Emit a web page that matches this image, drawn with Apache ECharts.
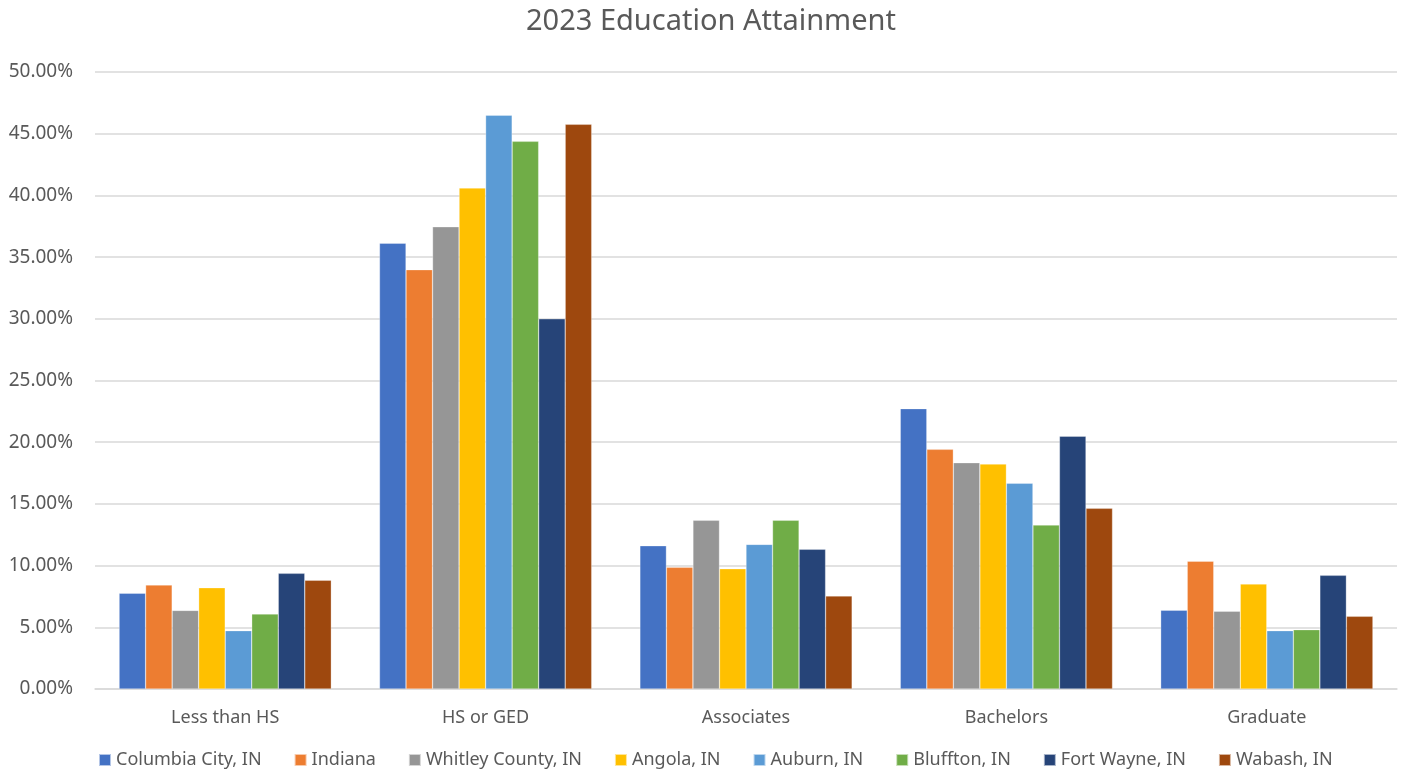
<!DOCTYPE html>
<html><head><meta charset="utf-8">
<script src="https://cdn.jsdelivr.net/npm/echarts@6/dist/echarts.min.js"></script>
<style>html,body{margin:0;padding:0;background:#fff}#c{width:1408px;height:776px}</style>
</head><body><div id="c"></div>
<script>
const categories = ['Less than HS','HS or GED','Associates','Bachelors','Graduate'];
const seriesNames = ['Columbia City, IN','Indiana','Whitley County, IN','Angola, IN','Auburn, IN','Bluffton, IN','Fort Wayne, IN','Wabash, IN'];
const columbiaCity = [7.76, 36.12, 11.61, 22.72, 6.38];
const indiana      = [8.43, 33.98, 9.86, 19.42, 10.35];
const whitley      = [6.37, 37.46, 13.67, 18.34, 6.30];
const angola       = [8.21, 40.60, 9.75, 18.23, 8.51];
const auburn       = [4.73, 46.50, 11.72, 16.67, 4.73];
const bluffton     = [6.08, 44.38, 13.67, 13.29, 4.81];
const fortWayne    = [9.37, 30.00, 11.32, 20.48, 9.21];
const wabash       = [8.81, 45.76, 7.54, 14.64, 5.89];
const colors = ['#4472C4','#ED7D31','#969696','#FFC000','#5B9BD5','#70AD47','#264478','#9E480E'];
const allData = [columbiaCity, indiana, whitley, angola, auburn, bluffton, fortWayne, wabash];
const font = 'Noto Sans';
const chart = echarts.init(document.getElementById('c'));
chart.setOption({
  animation:false,
  color:colors,
  title:{text:'2023 Education Attainment',left:521,top:2,textStyle:{fontFamily:font,fontSize:29,fontWeight:'normal',color:'#595959'}},
  grid:{left:95,right:11,top:72,bottom:87},
  legend:{bottom:2,left:93,itemWidth:12,itemHeight:12,itemGap:32,icon:'rect',
    textStyle:{fontFamily:font,fontSize:18,color:'#595959'}},
  xAxis:{type:'category',data:categories,axisTick:{show:false},
    axisLine:{lineStyle:{color:'#d9d9d9',width:1.5}},
    axisLabel:{fontFamily:font,fontSize:18,color:'#595959',margin:20}},
  yAxis:{type:'value',min:0,max:50,interval:5,
    axisLabel:{fontFamily:font,fontSize:19,color:'#595959',margin:22,formatter:v=>v.toFixed(2)+'%'},
    splitLine:{lineStyle:{color:'#d9d9d9',width:1.5}},axisLine:{show:false},axisTick:{show:false}},
  series: seriesNames.map((n,i)=>({name:n,type:'bar',data:allData[i],barGap:'0%',barCategoryGap:'18.5%',
    itemStyle:{borderColor:'rgba(255,255,255,0.6)',borderWidth:0.5}}))
});
</script></body></html>
